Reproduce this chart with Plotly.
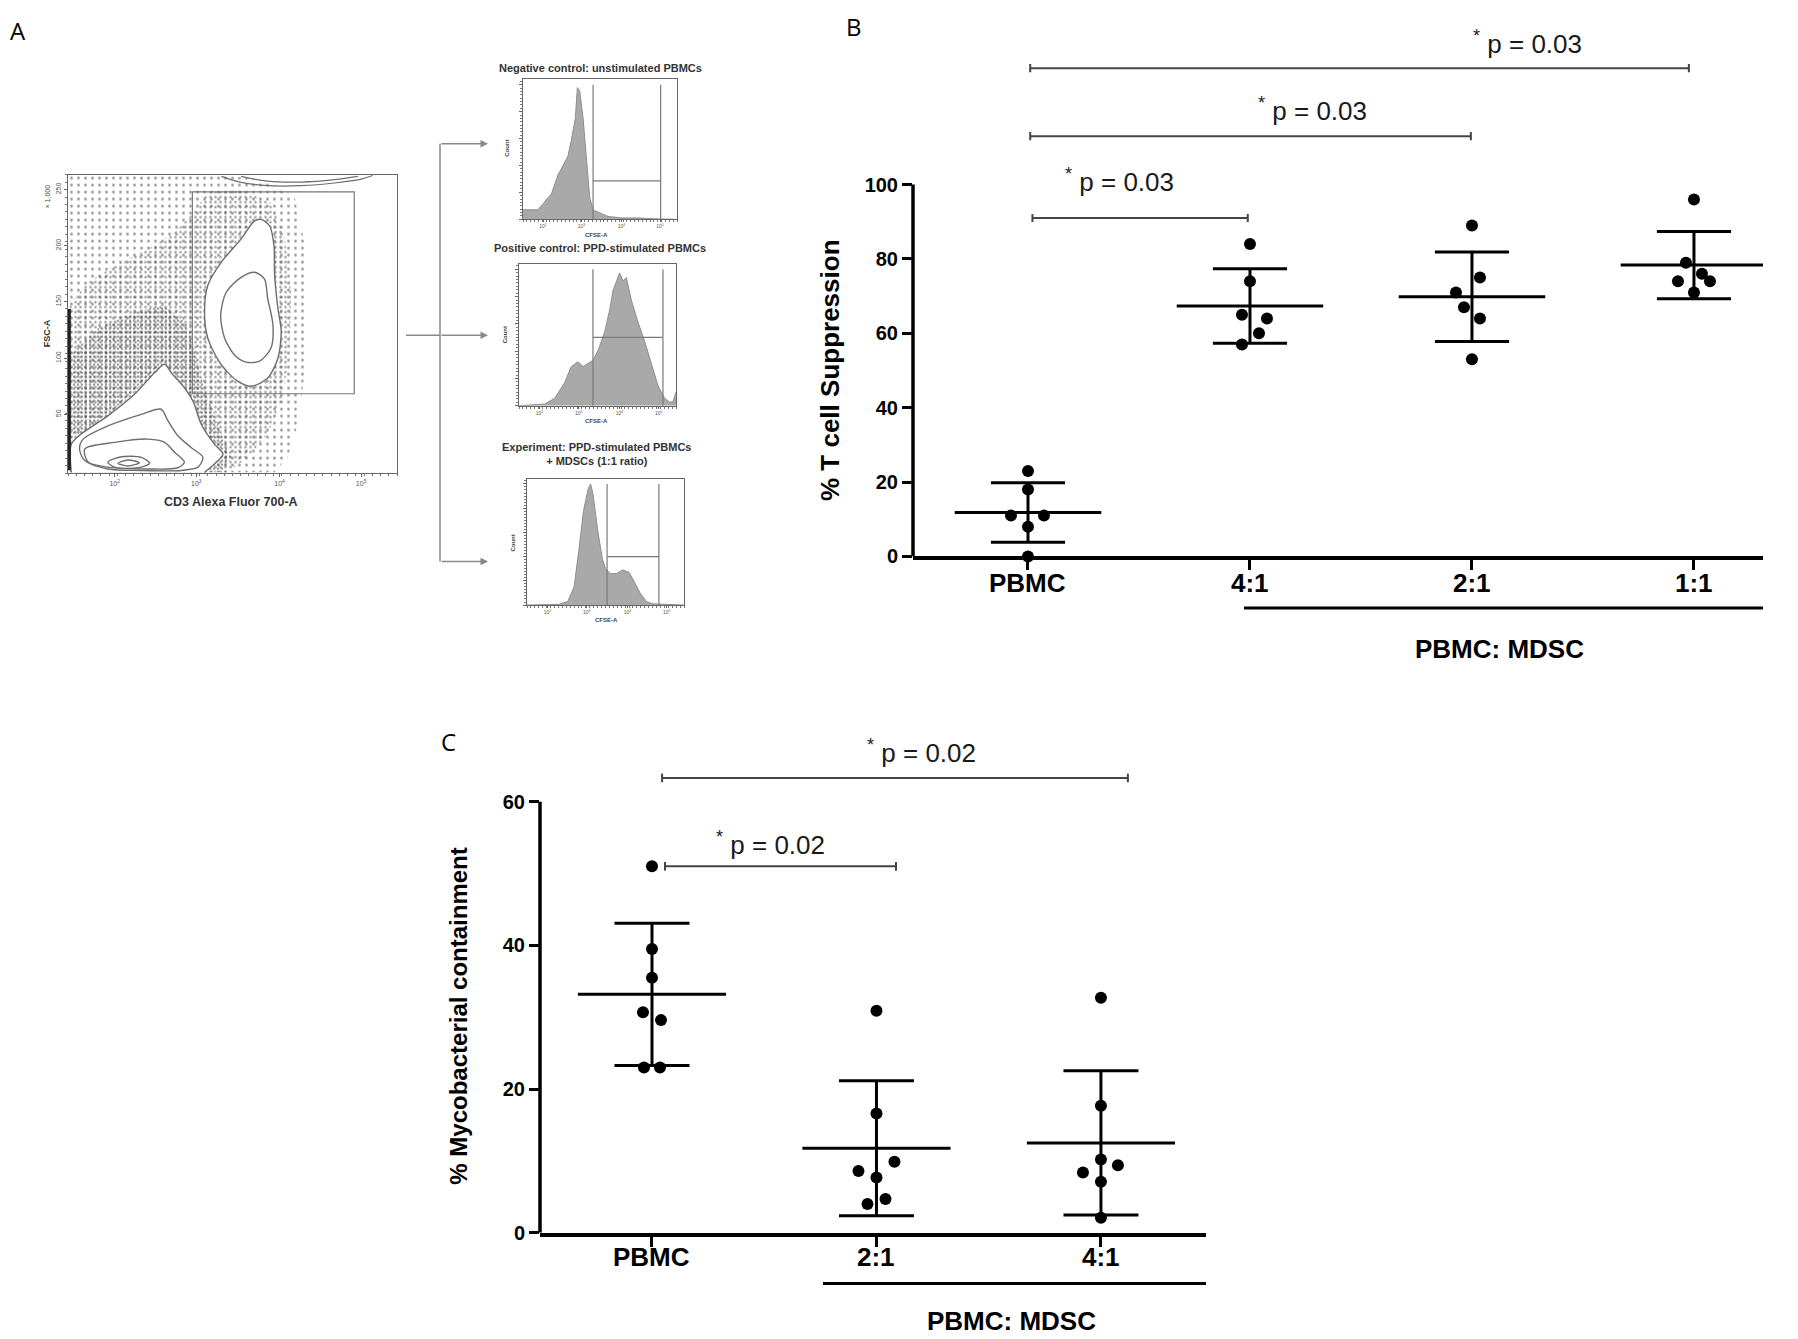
import numpy as np
import plotly.graph_objects as go

W, H = 1798, 1339
FONT = "Liberation Sans, Arial, sans-serif"
GREY = "#6e6e6e"

# ---------------- panel B : % T cell suppression ----------------
b_groups = ["PBMC", "4:1", "2:1", "1:1"]
b_pbmc = [23, 18, 11, 11, 8, 0]
b_41 = [84, 74, 65, 64, 60, 57]
b_21 = [89, 75, 71, 67, 64, 53]
b_11 = [96, 79, 76, 74, 74, 71]
b_values = [b_pbmc, b_41, b_21, b_11]
b_jitter = [[0, 0, -17, 16, 0, 0], [0, 0, -8, 17, 9, -8],
            [0, 8, -16, -8, 8, 0], [0, -8, 8, -16, 16, 0]]  # px
b_ticks = [0, 20, 40, 60, 80, 100]
b_pvals = ["0.03", "0.03", "0.03"]
b_bracket_x = [(0.02, 0.99), (0.01, 1.995), (0.01, 2.977)]
b_bracket_y = [91, 113, 131.3]
b_label_x = [0.41, 1.28, 2.25]
b_label_y = [101, 120.3, 138.1]

# ---------------- panel C : % mycobacterial containment ----------------
c_groups = ["PBMC", "2:1", "4:1"]
c_pbmc = [51, 39.5, 35.5, 30.7, 29.6, 23, 23]
c_21 = [30.9, 16.6, 9.9, 8.6, 7.7, 4.7, 4.0]
c_41 = [32.7, 17.7, 10.2, 9.4, 8.4, 7.1, 2.1]
c_values = [c_pbmc, c_21, c_41]
c_jitter = [[0, 0, 0, -9, 9, -8, 8], [0, 0, 18, -18, 0, 9, -9],
            [0, 0, 0, 17, -18, 0, 0]]  # px
c_ticks = [0, 20, 40, 60]
c_pvals = ["0.02", "0.02"]
c_bracket_x = [(0.058, 1.087), (0.045, 2.12)]
c_bracket_y = [51.0, 63.3]
c_label_x = [0.53, 1.2]
c_label_y = [54.2, 67.0]

# ---------------- panel A : gating plot outlines ----------------
cloud_sparse_x = [0.2, 0.2, 47.6, 58.7, 68.8, 71.9, 72.9, 71.9, 69.8, 66.8, 62.8]
cloud_sparse_y = [0.3, 99.7, 99.7, 98.3, 92.8, 77.3, 55.1, 33, 16.4, 5.3, 0.3]
cloud_dense_x = [0.5, 0.5, 6.1, 14.2, 24.3, 32.4, 38, 42.5, 52.6, 61.7, 65.8, 67.8, 67.3, 64.8, 60.7, 54.7, 48.6]
cloud_dense_y = [0.3, 56.3, 64, 69.5, 75.1, 80.6, 87.3, 93.9, 95, 90.6, 79.5, 60.7, 38.5, 24.1, 13.1, 5.3, 0.3]
cloud_dark_x = [0.5, 0.5, 9.1, 20.2, 29.4, 36.4, 40.5, 45.5, 49.6, 46.6, 42.5, 38.5, 32.4, 29.4, 17.2, 4]
cloud_dark_y = [12.5, 39.6, 48.5, 54, 56.3, 49.6, 31.9, 16.4, 5.3, 0.3, 0.9, 16.4, 30.8, 36.3, 24.1, 13.1]
edge_pile_y = [1, 55]  # events piled on the left edge

cont_low1_x = [1, 1, 4, 12.1, 20.2, 26.3, 29.4, 31.4, 35.4, 38, 40.5, 44.5, 47.1, 44.5, 41.5]
cont_low1_y = [0.3, 9.7, 13.1, 19.2, 26.4, 33.6, 36.5, 33.6, 28.6, 24.1, 16.4, 9.7, 6.4, 3.1, 0.3]
cont_low2_x = [4.6, 12.1, 22.3, 28.3, 30.4, 33.4, 37.4, 41, 39.5, 34.4, 22.3, 12.1, 5.1, 3.5, 4.6]
cont_low2_y = [11.4, 15.8, 19.7, 21.4, 17.5, 12.5, 8.6, 5.3, 2, 0.9, 0.9, 1.4, 4.2, 8.1, 11.4]
cont_low3_x = [5.1, 14.2, 24.3, 29.4, 32.4, 35.4, 33.4, 24.3, 12.1, 6.1, 5.1]
cont_low3_y = [8.1, 10.3, 11.4, 10.3, 7, 3.7, 1.8, 1.4, 2, 3.7, 8.1]
cont_low4_x = [12.1, 16.2, 22.3, 24.8, 21.3, 14.2, 12.1]
cont_low4_y = [3.7, 5.5, 5.3, 3.3, 1.8, 2, 3.7]
cont_low5_x = [15.2, 18.2, 21.7, 18.2, 15.2]
cont_low5_y = [3.3, 4.4, 3.5, 2.4, 3.3]
cont_t_out_x = [58.7, 61.3, 62.6, 62.8, 63.8, 64.8, 63.8, 60.7, 55.7, 51.6, 46.6, 42.5, 41.5, 42.5, 46.6, 52.6, 56.7, 58.7]
cont_t_out_y = [85, 82.8, 76.2, 66.3, 55.2, 47.4, 38.5, 31.9, 29.1, 30.8, 36.3, 45.2, 54, 62.9, 70.7, 78.4, 84.5, 85]
cont_t_in_x = [56.7, 59.7, 60.7, 62.3, 61.7, 58.2, 54.1, 50.6, 47.6, 46.4, 48.1, 52.6, 56.7]
cont_t_in_y = [67.3, 65.1, 58.5, 49.6, 41.9, 37.5, 37.2, 39.6, 45.2, 52.9, 60.6, 65.6, 67.3]
arc1_x = [46.6, 52.6, 60.7, 70.9, 81, 89.1, 92.6]
arc1_y = [99.4, 97.4, 96.3, 96.3, 97.2, 98.5, 99.7]
arc2_x = [52.6, 60.7, 70.9, 81, 88.1]
arc2_y = [99.4, 97.8, 97.5, 98.3, 99.4]
gate_box = (37.8, 26.6, 87.0, 94.2)

# histograms (x, y in % of the frame)
h1_x = [0, 9.7, 13, 18.4, 22.7, 26, 29.2, 31.4, 34, 35.3, 36.8, 39, 41.1, 43.3, 45.5, 50.8, 55.2, 63.9, 74.7, 85.5, 98.5]
h1_y = [7, 7, 11.6, 18.7, 32.9, 39.9, 47, 58.9, 75.4, 97.9, 95.5, 75.4, 44.7, 16.3, 6.9, 4.5, 2.1, 1, 1, 0.3, 0]
h2_x = [0, 16.4, 22.7, 29.1, 33.3, 37.6, 40.8, 43.9, 47.1, 50.3, 54.6, 57.8, 59.9, 64.1, 66.2, 68.4, 71.5, 75.8, 80, 84.3, 88.5, 92.8, 96, 98.1, 100]
h2_y = [0, 1.2, 5.4, 17, 28.7, 32.2, 28.7, 31, 33.3, 40.3, 54.3, 70.6, 84.6, 97.4, 91.6, 93.9, 77.6, 61.3, 47.3, 31, 14.7, 5.4, 2.6, 3, 10]
h3_x = [0, 20, 26, 30, 33, 36, 39, 40.5, 42, 45, 48, 50, 53, 57, 61, 65, 68, 72, 76, 80, 100]
h3_y = [0, 0.5, 3, 15, 45, 78, 96, 100, 92, 62, 38, 30, 26, 26, 29, 27, 20, 10, 3, 1, 0]
h_gates = [(45.5, 89.4, 28.6), (47.1, 91.7, 50.1), (51, 84, 40)]
h_titles = ["Negative control: unstimulated PBMCs", "Positive control: PPD-stimulated PBMCs",
            "Experiment: PPD-stimulated PBMCs<br>+ MDSCs (1:1 ratio)"]


def px(x):
    return x / W


def py(y):
    return 1 - y / H


fig = go.Figure()
shapes = []
annotations = []

# ---- panel A: flow plot
for cx, cy, size, sol in [(cloud_sparse_x, cloud_sparse_y, 7, 0.13),
                          (cloud_dense_x, cloud_dense_y, 5, 0.2),
                          (cloud_dark_x, cloud_dark_y, 4, 0.3)]:
    fig.add_trace(go.Scatter(x=cx, y=cy, fill="toself", mode="none", fillcolor="rgba(0,0,0,0)",
                             fillpattern=dict(shape=".", size=size, solidity=sol, fgcolor="#3a3a3a",
                                              fillmode="overlay"),
                             xaxis="x", yaxis="y", hoverinfo="skip"))
for cx, cy in [(cont_low1_x, cont_low1_y), (cont_low2_x, cont_low2_y), (cont_low3_x, cont_low3_y),
               (cont_low4_x, cont_low4_y), (cont_low5_x, cont_low5_y),
               (cont_t_out_x, cont_t_out_y), (cont_t_in_x, cont_t_in_y)]:
    fig.add_trace(go.Scatter(x=cx, y=cy, fill="toself", fillcolor="white", mode="lines",
                             line=dict(color=GREY, width=1.4, shape="spline", smoothing=0.8),
                             xaxis="x", yaxis="y", hoverinfo="skip"))
for cx, cy in [(arc1_x, arc1_y), (arc2_x, arc2_y)]:
    fig.add_trace(go.Scatter(x=cx, y=cy, mode="lines", line=dict(color=GREY, width=1.2, shape="spline"),
                             xaxis="x", yaxis="y", hoverinfo="skip"))
fig.add_trace(go.Scatter(x=[0.4, 0.4], y=edge_pile_y, mode="lines", line=dict(color="#222", width=3),
                         xaxis="x", yaxis="y", hoverinfo="skip"))
shapes.append(dict(type="rect", xref="x", yref="y", x0=gate_box[0], y0=gate_box[1], x1=gate_box[2],
                   y1=gate_box[3], line=dict(color="#777", width=1.2)))

# ---- panel A: histograms
hist = [(h1_x, h1_y), (h2_x, h2_y), (h3_x, h3_y)]
for k, (hx, hy) in enumerate(hist):
    ax = str(k + 2)
    fig.add_trace(go.Scatter(x=hx, y=hy, fill="tozeroy", fillcolor="#a9a9a9", mode="lines",
                             line=dict(color="#8e8e8e", width=1), xaxis="x" + ax, yaxis="y" + ax,
                             hoverinfo="skip"))
    g0, g1, gy = h_gates[k]
    for x0, y0, x1, y1 in [(g0, 0, g0, 100), (g1, 0, g1, 100), (g0, gy, g1, gy)]:
        shapes.append(dict(type="line", xref="x" + ax, yref="y" + ax, x0=x0, y0=y0, x1=x1, y1=y1,
                           line=dict(color="#7a7a7a", width=1.2), layer="above"))


# ---- panel B / C scatter with mean +/- SD
def dot_plot(values, jitter, spacing, xa, ya):
    lx, ly = [], []
    for i, v in enumerate(values):
        m = np.mean(v)
        s = np.std(v, ddof=1)
        lx += [i - 0.33, i + 0.33, None, i - 0.167, i + 0.167, None,
               i - 0.167, i + 0.167, None, i, i, None]
        ly += [m, m, None, m + s, m + s, None, m - s, m - s, None, m - s, m + s, None]
    fig.add_trace(go.Scatter(x=lx, y=ly, mode="lines", line=dict(color="black", width=3),
                             xaxis=xa, yaxis=ya, hoverinfo="skip", cliponaxis=False))
    for i, v in enumerate(values):
        fig.add_trace(go.Scatter(x=[i + j / spacing for j in jitter[i]], y=v, mode="markers",
                                 marker=dict(color="black", size=12), xaxis=xa, yaxis=ya,
                                 cliponaxis=False))


dot_plot(b_values, b_jitter, 222, "x5", "y5")
dot_plot(c_values, c_jitter, 224.5, "x6", "y6")


def brackets(xs, ys, lx, ly, pvals, xa, ya, cap):
    for (x0, x1), y in zip(xs, ys):
        shapes.append(dict(type="line", xref=xa, yref=ya, x0=x0, x1=x1, y0=y, y1=y,
                           line=dict(color="#444", width=2)))
        for xe in (x0, x1):
            shapes.append(dict(type="line", xref=xa, yref=ya, x0=xe, x1=xe, y0=y - cap, y1=y + cap,
                               line=dict(color="#444", width=2)))
    for x, y, p in zip(lx, ly, pvals):
        annotations.append(dict(x=x, y=y, xref=xa, yref=ya, showarrow=False,
                                xanchor="center", yanchor="middle",
                                text="<sup>*</sup> p = " + p,
                                font=dict(family=FONT, size=26, color="#1a1a1a")))


brackets(b_bracket_x, b_bracket_y, b_label_x, b_label_y, b_pvals, "x5", "y5", 1.1)
brackets(c_bracket_x, c_bracket_y, c_label_x, c_label_y, c_pvals, "x6", "y6", 0.6)

# category labels under the x axes
catF = dict(family=FONT, size=26, color="black", weight="bold")
for groups, xa, ylab in [(b_groups, "x5", 580), (c_groups, "x6", 1259)]:
    for i, g in enumerate(groups):
        annotations.append(dict(x=i, y=py(ylab), xref=xa, yref="paper", text=g, showarrow=False,
                                xanchor="center", yanchor="middle", font=catF))

# axis spines that stop at the top tick
shapes.append(dict(type="line", xref="x5 domain", yref="y5", x0=0, x1=0, y0=0, y1=100,
                   line=dict(color="black", width=3.5)))
shapes.append(dict(type="line", xref="x6 domain", yref="y6", x0=0, x1=0, y0=0, y1=60,
                   line=dict(color="black", width=3.5)))
# PBMC: MDSC underlines
shapes.append(dict(type="line", xref="paper", yref="paper", x0=px(1236), x1=px(1755), y0=py(605),
                   y1=py(605), line=dict(color="black", width=3)))
shapes.append(dict(type="line", xref="paper", yref="paper", x0=px(815), x1=px(1198), y0=py(1286),
                   y1=py(1286), line=dict(color="black", width=3)))

# panel A connectors
shapes.append(dict(type="line", xref="paper", yref="paper", x0=px(398), x1=px(432), y0=py(330),
                   y1=py(330), line=dict(color="#888", width=1.5)))
shapes.append(dict(type="line", xref="paper", yref="paper", x0=px(432), x1=px(432), y0=py(137),
                   y1=py(558), line=dict(color="#888", width=1.5)))
for yy in (137, 330, 558):
    annotations.append(dict(x=px(480), y=py(yy), xref="paper", yref="paper", ax=-48, ay=0, text="",
                            showarrow=True, arrowhead=2, arrowsize=1, arrowwidth=1.5,
                            arrowcolor="#888"))


def note(x, y, text, size, bold=False, angle=0, family=FONT, color="black"):
    annotations.append(dict(x=px(x), y=py(y), xref="paper", yref="paper", showarrow=False,
                            xanchor="center", yanchor="middle", text=text, textangle=angle,
                            font=dict(family=family, size=size, color=color,
                                      weight="bold" if bold else "normal")))


note(10, 23, "A", 24, family="Open Sans")
note(846, 19, "B", 24, family="Open Sans")
note(440, 740, "C", 24, family="Open Sans")
note(822, 365, "% T cell Suppression", 26, bold=True, angle=-90)
note(451, 1017, "% Mycobacterial containment", 24, bold=True, angle=-90)
note(1491, 646, "PBMC: MDSC", 26, bold=True)
note(1003, 1324, "PBMC: MDSC", 26, bold=True)
note(223, 498, "CD3 Alexa Fluor 700-A", 12.5, bold=True, color="#333")
note(39, 328, "FSC-A", 9, bold=True, angle=-90, color="#333")
note(39, 190, "× 1,000", 7, angle=-90, color="#444")
note(592, 60, h_titles[0], 11, bold=True, color="#333")
note(592, 242, h_titles[1], 11, bold=True, color="#333")
note(588, 450, h_titles[2], 11, bold=True, color="#333")
for xx, yy in [(588, 229), (588, 416), (598, 617)]:
    note(xx, yy, "CFSE-A", 6, bold=True, color="#444")
for xx, yy in [(499, 142), (497, 330), (505, 540)]:
    note(xx, yy, "Count", 6, bold=True, angle=-90, color="#444")

# ---- layout axes
small = dict(family=FONT, size=5, color="#555")
frame = dict(showline=True, mirror=True, linecolor="#666", linewidth=1.2, showgrid=False,
             zeroline=False, range=[0, 100], ticks="outside", ticklen=3, tickcolor="#666",
             minor=dict(ticks="outside", ticklen=2, tickcolor="#777", dtick=2.5, showgrid=False))
decades = ["10<sup>2</sup>", "10<sup>3</sup>", "10<sup>4</sup>", "10<sup>5</sup>"]

layout = dict(width=W, height=H, margin=dict(l=0, r=0, t=0, b=0), paper_bgcolor="white",
              plot_bgcolor="rgba(0,0,0,0)", showlegend=False, shapes=shapes, annotations=annotations)
layout["xaxis"] = dict(frame, domain=[px(60), px(389)], anchor="y", tickvals=[14.2, 39, 64.3, 89.1],
                       ticktext=decades, tickfont=dict(small, size=7))
layout["yaxis"] = dict(frame, domain=[py(469), py(168)], anchor="x", tickvals=[19.7, 38.5, 57.4, 76.2, 95],
                       ticktext=["50", "100", "150", "200", "250"], tickangle=-90,
                       tickfont=dict(small, size=7))
h_dom = [((515, 669), (72, 213)), ((511, 668), (258, 401)), ((519, 676), (475, 602))]
for k, ((x0, x1), (y0, y1)) in enumerate(h_dom):
    ax = str(k + 2)
    layout["xaxis" + ax] = dict(frame, domain=[px(x0), px(x1)], anchor="y" + ax, ticklen=2,
                                tickvals=[13, 38, 64, 89], ticktext=decades, tickfont=small)
    layout["yaxis" + ax] = dict(frame, domain=[py(y1), py(y0)], anchor="x" + ax, range=[0, 104],
                                tickvals=[0, 20, 40, 60, 80, 100], showticklabels=False)

tickB = dict(family=FONT, size=20, color="black", weight="bold")
layout["xaxis5"] = dict(domain=[px(905), px(1755)], anchor="y5", range=[-0.518, 3.311],
                        tickvals=list(range(len(b_groups))), showticklabels=False,
                        showline=True, linecolor="black", linewidth=3.5, ticks="outside",
                        ticklen=10, tickwidth=3, tickcolor="black", showgrid=False, zeroline=False)
layout["yaxis5"] = dict(domain=[py(553), py(28)], anchor="x5", range=[0, 140], tickvals=b_ticks,
                        tickfont=tickB, showline=False, ticks="outside", ticklen=10, tickwidth=3,
                        tickcolor="black", showgrid=False, zeroline=False)
layout["xaxis6"] = dict(domain=[px(532), px(1198)], anchor="y6", range=[-0.4989, 2.468],
                        tickvals=list(range(len(c_groups))), showticklabels=False,
                        showline=True, linecolor="black", linewidth=3.5, ticks="outside",
                        ticklen=10, tickwidth=3, tickcolor="black", showgrid=False, zeroline=False)
layout["yaxis6"] = dict(domain=[py(1235), py(735)], anchor="x6", range=[0, 69], tickvals=c_ticks,
                        tickfont=tickB, showline=False, ticks="outside", ticklen=10, tickwidth=3,
                        tickcolor="black", showgrid=False, zeroline=False)

fig.update_layout(**layout)
fig.write_html("out.html")
